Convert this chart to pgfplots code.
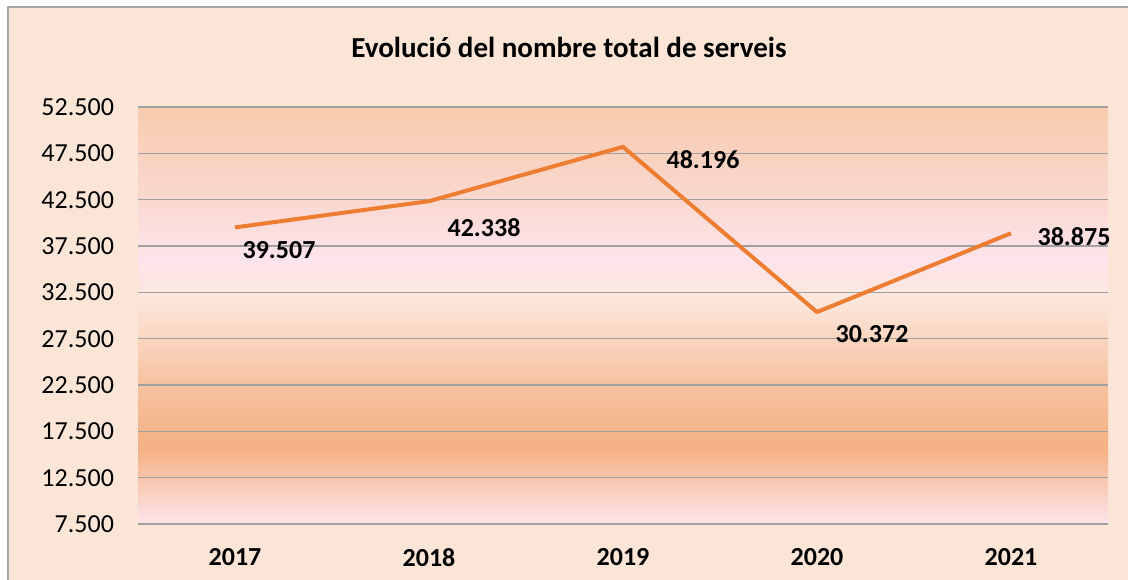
\documentclass[border=0pt]{standalone}
\usepackage{fontspec}
\setmainfont{Carlito}
\usepackage{pgfplots}
\pgfplotsset{compat=1.18}
\definecolor{bgpeach}{HTML}{FBE5D6}
\definecolor{bordergray}{HTML}{A6A6A6}
\definecolor{gridgray}{HTML}{A0A0A0}
\definecolor{lineorange}{HTML}{ED7D31}
\definecolor{cpink}{HTML}{FDE4EC}
\definecolor{corange}{HTML}{F4B183}
\definecolor{cmid}{HTML}{F6C19E}
\definecolor{cpale}{HTML}{FCE7DC}
\definecolor{cpink2}{HTML}{FAD8D0}
\definecolor{ctop}{HTML}{F8CBAD}
\pgfdeclareverticalshading{plotbg}{100bp}{color(0bp)=(cpink); color(25bp)=(cpink); color(34bp)=(corange); color(41.5bp)=(cmid); color(52bp)=(cpale); color(56.5bp)=(cpink); color(64bp)=(cpink2); color(75bp)=(ctop); color(100bp)=(ctop)}

\pgfplotstableread{
x y dx dy
0 39507 22 -11.5
1 42338 27.5 -13
2 48196 40 -6.5
3 30372 27.5 -11
4 38875 31.5 -1.5
}\datatable

\begin{document}
\begin{tikzpicture}[x=1pt,y=1pt]
\useasboundingbox (0,0) rectangle (564,289.5);
\fill[white] (0,0) rectangle (564,289.5);
\fill[bgpeach] (4,-5) rectangle (570,286);
\draw[bordergray, line width=1pt] (4,-5) -- (4,286) -- (570,286);
\node[font=\fontsize{14.5}{17}\selectfont\bfseries, anchor=base] at (284.5,260.5) {Evolució del nombre total de serveis};
\begin{axis}[
  at={(69pt,27.5pt)}, anchor=south west,
  scale only axis, width=485pt, height=208.5pt,
  xmin=-0.5, xmax=4.5, ymin=7500, ymax=52500,
  xtick={0,1,2,3,4}, xticklabels={2017,2018,2019,2020,2021},
  ytick={7500,12500,17500,22500,27500,32500,37500,42500,47500,52500},
  scaled y ticks=false,
  /pgf/number format/assume math mode=true,
  /pgf/number format/.cd, fixed, precision=0, 1000 sep={.}, /pgfplots/.cd,
  axis line style={draw=none},
  major tick style={draw=none},
  ymajorgrids, grid style={gridgray, line width=0.6pt},
  axis background/.style={shade, shading=plotbg},
  yticklabel style={font=\fontsize{13}{15}\selectfont, xshift=-8.5pt},
  xticklabel style={font=\fontsize{13}{15}\selectfont\bfseries, yshift=-8.7pt},
  clip=false,
]
\addplot[lineorange, line width=2pt, line join=round, mark=none,
  visualization depends on={\thisrow{dx} \as \labdx},
  visualization depends on={\thisrow{dy} \as \labdy},
  point meta=explicit,
  nodes near coords={\pgfmathprintnumber[fixed, precision=0, 1000 sep={.}]{\pgfplotspointmeta}},
  nodes near coords style={anchor=center, xshift=\labdx pt, yshift=\labdy pt, text=black, font=\fontsize{13}{15}\selectfont\bfseries},
] table[x=x, y=y, meta=y] {\datatable};
\end{axis}
\end{tikzpicture}
\end{document}
